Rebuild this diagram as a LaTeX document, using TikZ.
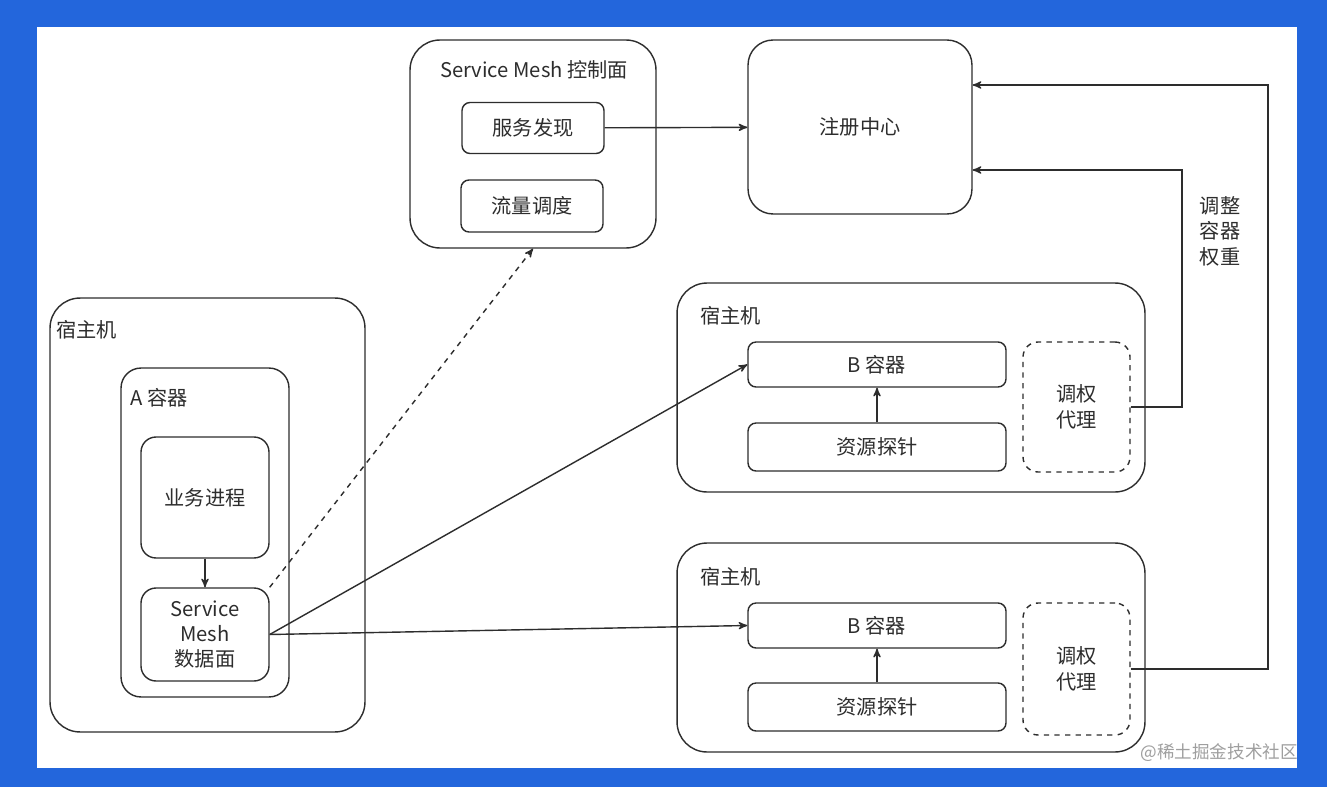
\documentclass[tikz,border=0pt]{standalone}
\usepackage{fontspec}
\setmainfont{Noto Sans CJK SC}
\usetikzlibrary{arrows,positioning,shapes}
\definecolor{framebg}{RGB}{35,102,220}
\definecolor{ink}{RGB}{45,45,45}
\tikzset{
    %Define standard arrow tip
    >=stealth',
    %Define style for the big containers
    host/.style={
           rectangle,
           rounded corners=0.6cm,
           draw=ink, line width=0.8pt},
    %Define style for boxes
    box/.style={
           rectangle,
           rounded corners=0.16cm,
           draw=ink, line width=0.8pt,
           align=center,
           font=\fontsize{11.5}{14.5}\selectfont,
           text=ink},
    agent/.style={
           box,
           dashed,
           rounded corners=0.3cm},
    annot/.style={
           font=\fontsize{11.5}{14.5}\selectfont,
           text=ink},
    % Define arrow style
    arr/.style={
           ->,
           draw=ink,
           line width=0.8pt},
    dasharr/.style={
           ->,
           draw=ink,
           dashed,
           line width=0.8pt}
}

\begin{document}
\begin{tikzpicture}[x=0.02cm,y=-0.02cm]
  \useasboundingbox (0,0) rectangle (1327,787);
  \fill[framebg] (0,0) rectangle (1327,787);
  \fill[white] (37,27) rectangle (1297,768);

  % control plane and registry
  \node[host, minimum width=4.92cm, minimum height=4.16cm] (ctrl-plane) at (533,144) {};
  \node[annot] (ctrl-title) at (534,70) {Service Mesh 控制面};
  \node[box, minimum width=2.84cm, minimum height=1.02cm] (svc-disc) at (533,128) {服务发现};
  \node[box, minimum width=2.84cm, minimum height=1.04cm] (traffic) at (532,206) {流量调度};
  \node[box, rounded corners=0.5cm, minimum width=4.48cm, minimum height=3.48cm] (reg-center) at (860,127) {注册中心};

  % host with container A
  \node[host, minimum width=6.3cm, minimum height=8.68cm] (host-a) at (207.5,515) {};
  \node[annot, anchor=west] (host-a-label) at (50,330) {宿主机};
  \node[host, rounded corners=0.4cm, minimum width=3.36cm, minimum height=6.58cm] (cont-a) at (205,532.5) {};
  \node[annot, anchor=west] (cont-a-label) at (124,398) {A 容器};
  \node[box, rounded corners=0.3cm, minimum width=2.56cm, minimum height=2.42cm] (biz) at (205,497.5) {业务进程};
  \node[box, rounded corners=0.3cm, minimum width=2.56cm, minimum height=1.86cm] (data-plane) at (205,634.5) {Service\\Mesh\\数据面};

  % upper host with container B
  \node[host, minimum width=9.36cm, minimum height=4.18cm] (host-b1) at (911,387.5) {};
  \node[annot, anchor=west] (host-b1-label) at (694,316) {宿主机};
  \node[box, minimum width=5.16cm, minimum height=0.9cm] (cont-b1) at (877,364.5) {B 容器};
  \node[box, minimum width=5.16cm, minimum height=0.96cm] (probe-b1) at (877,447) {资源探针};
  \node[agent, minimum width=2.14cm, minimum height=2.6cm] (agent-b1) at (1076.5,407) {调权\\代理};

  % lower host with container B
  \node[host, minimum width=9.36cm, minimum height=4.18cm] (host-b2) at (911,647.5) {};
  \node[annot, anchor=west] (host-b2-label) at (694,577) {宿主机};
  \node[box, minimum width=5.16cm, minimum height=0.9cm] (cont-b2) at (877,625.5) {B 容器};
  \node[box, minimum width=5.16cm, minimum height=0.96cm] (probe-b2) at (877,707) {资源探针};
  \node[agent, minimum width=2.14cm, minimum height=2.64cm] (agent-b2) at (1076.5,669) {调权\\代理};

  \node[annot, align=center] (weight-label) at (1220,231) {调整\\容器\\权重};
  \node[text=gray!75, font=\fontsize{10}{12}\selectfont, anchor=east] (mark) at (1304,753) {@稀土掘金技术社区};

  \coordinate (turn-b1) at (1182,300);
  \coordinate (turn-b2) at (1268,300);

  \draw [arr] (svc-disc) -- (reg-center);
  \draw [arr] (biz) -- (data-plane);
  \draw [dasharr] (data-plane.north east) -- (ctrl-plane.south);
  \draw [arr] (data-plane.east) -- (cont-b1.west);
  \draw [arr] (data-plane.east) -- (cont-b2.west);
  \draw [arr] (probe-b1) -- (cont-b1);
  \draw [arr] (probe-b2) -- (cont-b2);

  \draw [arr] (agent-b1.east) -| (turn-b1) |- ([yshift=-0.86cm]reg-center.east);
  \draw [arr] (agent-b2.east) -| (turn-b2) |- ([yshift=0.84cm]reg-center.east);
\end{tikzpicture}
\end{document}
